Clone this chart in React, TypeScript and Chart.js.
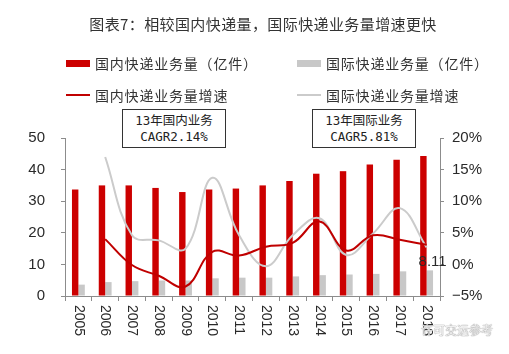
import React, { useEffect, useRef } from "react";
import { Chart, registerables } from "chart.js";

Chart.register(...registerables);

const categories = ["2005", "2006", "2007", "2008", "2009", "2010", "2011", "2012", "2013", "2014", "2015", "2016", "2017", "2018"];
const domesticVolume = [33.7, 35.0, 35.0, 34.2, 32.9, 33.7, 34.0, 35.0, 36.4, 38.7, 39.5, 41.6, 43.1, 44.3];
const intlVolume = [3.6, 4.4, 4.7, 4.9, 4.9, 5.6, 5.8, 5.8, 6.2, 6.6, 6.8, 7.0, 7.8, 8.11];
const domesticGrowth = [null, 4.0, -0.1, -1.8, -3.5, 2.0, 1.4, 2.8, 3.4, 6.8, 2.2, 4.6, 3.9, 3.1];
const intlGrowth = [null, 17.0, 4.6, 3.8, 2.5, 13.7, 4.6, -0.3, 4.6, 7.3, 1.5, 4.9, 8.9, 2.7];

const leftTicks = { min: 0, max: 50, step: 10 };
const rightTicks = { min: -5, max: 20, step: 5 };

const seriesNames = ["国内快递业务量（亿件）", "国际快递业务量（亿件）", "国内快递业务量增速", "国际快递业务量增速"];
const titleText = "图表7：相较国内快递量，国际快递业务量增速更快";
const cagrBoxes = [
  ["13年国内业务", "CAGR2.14%"],
  ["13年国际业务", "CAGR5.81%"],
];
const watermark = "许可交运参考";

const RED_BAR = "#CC0000";
const GRAY_BAR = "#C8C8C8";
const RED_LINE = "#C00000";
const GRAY_LINE = "#CBCBCB";
const AXIS = "#8C8C8C";
const TEXT = "#2a2a2a";

const CJK = "'Noto Sans CJK SC', 'Noto Sans', sans-serif";

const labelPlugin = {
  id: "customLabels",
  afterDraw(chart: any) {
    const ctx = chart.ctx;
    const xs = chart.scales.x;
    const yl = chart.scales.y;
    ctx.save();
    ctx.font = "14px 'Liberation Sans', Arial, sans-serif";
    ctx.fillStyle = TEXT;
    ctx.textAlign = "left";
    ctx.textBaseline = "middle";
    categories.forEach((c, i) => {
      const px = xs.getPixelForValue(i);
      ctx.save();
      ctx.translate(px, xs.top + 9);
      ctx.rotate(Math.PI / 2);
      ctx.fillText(c, 0, 0);
      ctx.restore();
    });
    const last = intlVolume.length - 1;
    ctx.font = "15px 'Liberation Sans', Arial, sans-serif";
    ctx.textAlign = "center";
    ctx.fillText(intlVolume[last].toFixed(2), xs.getPixelForValue(last) + 6, yl.getPixelForValue(intlVolume[last]) - 9);
    ctx.restore();
  },
};

export default function App() {
  const ref = useRef<HTMLCanvasElement | null>(null);

  useEffect(() => {
    if (!ref.current) return;
    const tickFont = { family: "'Liberation Sans Narrow', 'Liberation Sans', Arial, sans-serif", size: 15 };
    const chart = new Chart(ref.current, {
      type: "bar",
      data: {
        labels: categories,
        datasets: [
          {
            type: "line",
            label: seriesNames[2],
            data: domesticGrowth,
            yAxisID: "y1",
            borderColor: RED_LINE,
            borderWidth: 2,
            pointRadius: 0,
            tension: 0.4,
            fill: false,
            order: 0,
          },
          {
            type: "line",
            label: seriesNames[3],
            data: intlGrowth,
            yAxisID: "y1",
            borderColor: GRAY_LINE,
            borderWidth: 2,
            pointRadius: 0,
            tension: 0.4,
            fill: false,
            order: 1,
          },
          {
            type: "bar",
            label: seriesNames[0],
            data: domesticVolume,
            yAxisID: "y",
            backgroundColor: RED_BAR,
            categoryPercentage: 0.48,
            barPercentage: 1,
            order: 2,
          },
          {
            type: "bar",
            label: seriesNames[1],
            data: intlVolume,
            yAxisID: "y",
            backgroundColor: GRAY_BAR,
            categoryPercentage: 0.48,
            barPercentage: 1,
            order: 3,
          },
        ] as any,
      },
      options: {
        responsive: false,
        animation: false,
        layout: { padding: { top: 138, left: 0, right: 0, bottom: 0 } },
        plugins: { legend: { display: false }, tooltip: { enabled: false }, title: { display: false } },
        scales: {
          x: {
            offset: true,
            grid: { display: true, drawOnChartArea: false, drawTicks: true, tickLength: 5, color: AXIS, offset: true },
            border: { display: true, color: AXIS, width: 1 },
            ticks: { display: false },
            afterFit: (s: any) => {
              s.height = 58;
            },
          },
          y: {
            position: "left",
            min: leftTicks.min,
            max: leftTicks.max,
            ticks: { stepSize: leftTicks.step, padding: 16, color: TEXT, font: tickFont },
            grid: { drawOnChartArea: false, tickLength: 4, color: AXIS },
            border: { display: true, color: AXIS, width: 1 },
            afterFit: (s: any) => {
              s.width = 65;
            },
          },
          y1: {
            position: "right",
            min: rightTicks.min,
            max: rightTicks.max,
            ticks: {
              stepSize: rightTicks.step,
              padding: 8,
              color: TEXT,
              font: tickFont,
              callback: (v: any) => (Number(v) < 0 ? "\u2212" + Math.abs(Number(v)) : String(v)) + "%",
            },
            grid: { drawOnChartArea: false, tickLength: 4, color: AXIS },
            border: { display: true, color: AXIS, width: 1 },
            afterFit: (s: any) => {
              s.width = 69;
            },
          },
        },
      } as any,
      plugins: [labelPlugin],
    });
    return () => chart.destroy();
  }, []);

  const legendText: React.CSSProperties = {
    position: "absolute",
    fontFamily: CJK,
    fontSize: 14,
    letterSpacing: "0.8px",
    color: "#333",
    lineHeight: "18px",
    whiteSpace: "nowrap",
  };

  const boxStyle = (left: number): React.CSSProperties => ({
    position: "absolute",
    left,
    top: 109,
    width: 104,
    height: 39,
    boxSizing: "border-box",
    border: "1.5px solid #333",
    background: "#fff",
    display: "flex",
    flexDirection: "column",
    justifyContent: "center",
    alignItems: "center",
    fontFamily: "'DejaVu Sans Mono', 'Noto Sans CJK SC', monospace",
    fontSize: 12.5,
    lineHeight: "16px",
    color: "#222",
    whiteSpace: "nowrap",
  });

  return (
    <div style={{ position: "absolute", left: 0, top: 0, width: 509, height: 354, background: "#fff", overflow: "hidden" }}>
      <canvas ref={ref} width={509} height={354} style={{ position: "absolute", left: 0, top: 0 }} />
      <div
        style={{
          position: "absolute",
          left: 0,
          width: 526,
          top: 14,
          textAlign: "center",
          fontFamily: CJK,
          fontSize: 15,
          letterSpacing: "0.4px",
          lineHeight: "20px",
          color: "#333",
          whiteSpace: "nowrap",
        }}
      >
        {titleText}
      </div>
      {/* legend */}
      <div style={{ position: "absolute", left: 66, top: 60, width: 24, height: 7, background: RED_BAR }} />
      <div style={{ ...legendText, left: 95, top: 54 }}>{seriesNames[0]}</div>
      <div style={{ position: "absolute", left: 297, top: 60, width: 24, height: 7, background: GRAY_BAR }} />
      <div style={{ ...legendText, left: 326, top: 54 }}>{seriesNames[1]}</div>
      <div style={{ position: "absolute", left: 66, top: 94, width: 24, height: 2, background: RED_LINE }} />
      <div style={{ ...legendText, left: 95, top: 86 }}>{seriesNames[2]}</div>
      <div style={{ position: "absolute", left: 297, top: 94, width: 24, height: 2, background: GRAY_LINE }} />
      <div style={{ ...legendText, left: 326, top: 86 }}>{seriesNames[3]}</div>
      {/* CAGR boxes */}
      <div style={boxStyle(122)}>
        <div>{cagrBoxes[0][0]}</div>
        <div>{cagrBoxes[0][1]}</div>
      </div>
      <div style={boxStyle(312)}>
        <div>{cagrBoxes[1][0]}</div>
        <div>{cagrBoxes[1][1]}</div>
      </div>
      {/* watermark */}
      <div
        style={{
          position: "absolute",
          left: 421,
          top: 322,
          fontFamily: CJK,
          fontSize: 12,
          lineHeight: "16px",
          color: "rgba(245,245,245,0.95)",
          textShadow: "0 0 1px #888, 0 0 1px #888",
          whiteSpace: "nowrap",
        }}
      >
        {watermark}
      </div>
    </div>
  );
}
